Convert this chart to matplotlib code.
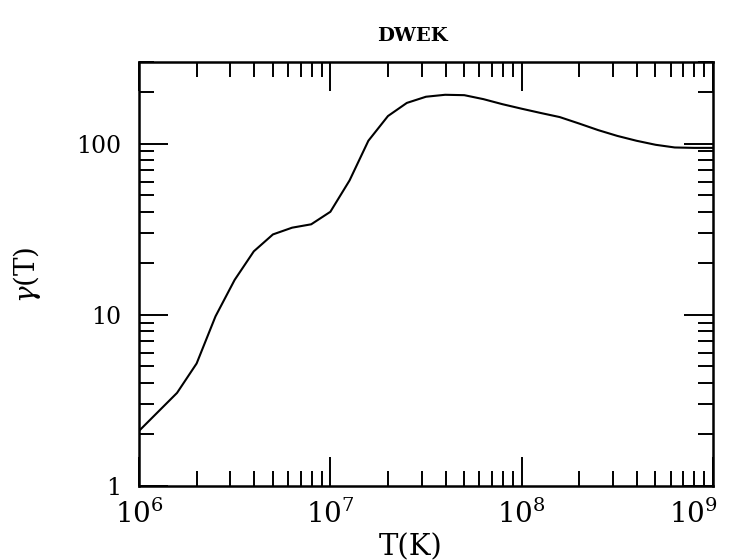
import numpy as np
import matplotlib
matplotlib.use('Agg')
from matplotlib import pyplot as plt
from matplotlib import transforms
from matplotlib.ticker import LogLocator, NullFormatter, FixedLocator, FixedFormatter

# temperature grid (K) and cooling-enhancement gamma(T)
temp = [1.0e6, 1.58e6, 2.0e6, 2.51e6, 3.16e6, 3.98e6, 5.01e6, 6.31e6, 7.94e6,
        1.0e7, 1.26e7, 1.58e7, 2.0e7, 2.51e7, 3.16e7, 3.98e7, 5.01e7, 6.31e7,
        7.94e7, 1.0e8, 1.26e8, 1.58e8, 2.0e8, 2.51e8, 3.16e8, 3.98e8,
        5.01e8, 6.31e8, 7.94e8, 1.0e9]
gamma = [2.1, 3.5, 5.2, 9.8, 16.0, 23.5, 29.5, 32.3, 33.8,
         40.0, 61.0, 104.0, 145.0, 173.0, 188.0, 193.0, 192.0, 182.0,
         170.0, 160.0, 151.0, 143.0, 131.0, 120.0, 111.0, 104.0,
         98.5, 95.0, 94.5, 94.5]

x_major = [1e6, 1e7, 1e8, 1e9]
x_labels = [r'$10^{6}$', r'$10^{7}$', r'$10^{8}$', r'$10^{9}$']
y_major = [1, 10, 100]
y_labels = ['1', '10', '100']

plt.rcParams['font.family'] = 'DejaVu Serif'
plt.rcParams['mathtext.fontset'] = 'dejavuserif'

fig = plt.figure(figsize=(7.36, 5.6), dpi=100)
ax = fig.add_axes([0.1889, 0.1321, 0.7799, 0.7572])

ax.plot(temp, gamma, color='black', lw=1.5)
ax.set_xscale('log')
ax.set_yscale('log')
ax.set_xlim(1e6, 1e9)
ax.set_ylim(1, 300)

ax.xaxis.set_major_locator(FixedLocator(x_major))
ax.xaxis.set_major_formatter(FixedFormatter(x_labels))
ax.xaxis.set_minor_locator(LogLocator(base=10, subs=np.arange(2, 10)))
ax.xaxis.set_minor_formatter(NullFormatter())
ax.yaxis.set_major_locator(FixedLocator(y_major))
ax.yaxis.set_major_formatter(FixedFormatter(y_labels))
ax.yaxis.set_minor_locator(LogLocator(base=10, subs=np.arange(2, 10)))
ax.yaxis.set_minor_formatter(NullFormatter())

for s in ax.spines.values():
    s.set_linewidth(1.8)
ax.tick_params(which='both', direction='in', top=True, right=True, width=1.4)
ax.tick_params(which='major', length=21)
ax.tick_params(which='minor', length=11)
ax.tick_params(axis='x', which='major', labelsize=20, pad=10)
ax.tick_params(axis='y', which='major', labelsize=17, pad=13)

# the last x label sits a little left so it stays on the page
last = ax.get_xticklabels()[-1]
last.set_transform(last.get_transform() +
                   transforms.ScaledTranslation(-0.2, 0, fig.dpi_scale_trans))

fig.text(412 / 736, 1 - 36 / 560, 'DWEK', fontsize=14, fontweight='bold',
         ha='center', va='center')
fig.text(411 / 736, 1 - 547 / 560, 'T(K)', fontsize=21, ha='center', va='center')
fig.text(27 / 736, 1 - 275 / 560, r'$\gamma$(T)', fontsize=20, rotation=90,
         ha='center', va='center')

plt.savefig('out.png', dpi=100)
